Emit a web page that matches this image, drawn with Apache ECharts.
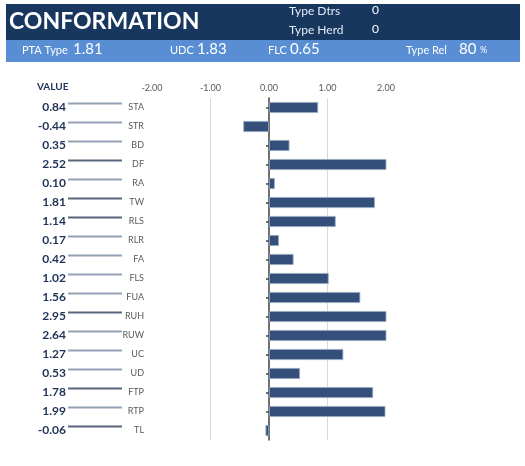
<!DOCTYPE html>
<html>
<head>
<meta charset="utf-8">
<title>conformation</title>
<script src="https://cdn.jsdelivr.net/npm/echarts@6/dist/echarts.min.js"></script>
<style>
  html, body { margin: 0; padding: 0; background: #fff; }
  #main { width: 525px; height: 466px; }
</style>
</head>
<body>
<div id="main"></div>
<script>
// trait codes, top to bottom
const traits = ['STA', 'STR', 'BD', 'DF', 'RA', 'TW', 'RLS', 'RLR', 'FA', 'FLS', 'FUA', 'RUH', 'RUW', 'UC', 'UD', 'FTP', 'RTP', 'TL'];
const values = [0.84, -0.44, 0.35, 2.52, 0.10, 1.81, 1.14, 0.17, 0.42, 1.02, 1.56, 2.95, 2.64, 1.27, 0.53, 1.78, 1.99, -0.06];
const xTicks = [-2, -1, 0, 1, 2];

// header figures
const typeDtrs = 0, typeHerd = 0;
const ptaType = 1.81, udc = 1.83, flc = 0.65, typeRel = 80;

// rows whose rule line prints darker
const darkRules = ['DF', 'TW', 'RLS', 'RUH', 'FTP', 'TL'];

const navy = '#1f3358';
const font = 'Lato, "Open Sans", sans-serif';

const txt = (x, y, text, size, extra) => ({
  type: 'text', left: x, top: y,
  style: Object.assign({ text: text, fill: '#fff', font: size + 'px ' + font }, extra || {})
});

const chart = echarts.init(document.getElementById('main'));
chart.setOption({
  animation: false,
  graphic: [
    { type: 'rect', shape: { x: 6, y: 4, width: 514, height: 36 }, style: { fill: '#18375f' } },
    { type: 'rect', shape: { x: 6, y: 40, width: 514, height: 22 }, style: { fill: '#5a8ed4' } },
    txt(9, 10, 'CONFORMATION', 23, { font: 'bold 23px ' + font }),
    txt(289, 5, 'Type Dtrs', 12, { fill: '#e3ebf5' }),
    txt(372, 4, String(typeDtrs), 12),
    txt(289, 24, 'Type Herd', 12, { fill: '#e3ebf5' }),
    txt(372, 23, String(typeHerd), 12),
    txt(22, 45, 'PTA Type', 11),
    txt(73, 42, ptaType.toFixed(2), 15),
    txt(170, 45, 'UDC', 11),
    txt(197, 42, udc.toFixed(2), 15),
    txt(268, 45, 'FLC', 11),
    txt(290, 42, flc.toFixed(2), 15),
    txt(406, 45, 'Type Rel', 11),
    txt(459, 42, String(typeRel), 15),
    txt(480, 46, '%', 9),
    txt(37, 82, 'VALUE', 10, { fill: navy, font: 'bold 10px ' + font })
  ],
  grid: [
    { left: 152, right: 139, top: 98, bottom: 26, outerBoundsMode: 'none' },
    { left: 68, width: 54, top: 98, bottom: 26, outerBoundsMode: 'none' }
  ],
  xAxis: [
    {
      gridIndex: 0, type: 'value', position: 'top',
      min: xTicks[0], max: xTicks[xTicks.length - 1], interval: 1,
      axisLine: { show: false }, axisTick: { show: false },
      axisLabel: { margin: 5, color: '#595959', fontSize: 9, fontFamily: font,
        formatter: v => v.toFixed(2) },
      splitLine: { show: true, lineStyle: { color: ['transparent', '#d9d9d9', 'transparent', '#d9d9d9', 'transparent'], width: 1 } }
    },
    { gridIndex: 1, type: 'value', min: 0, max: 1, show: false }
  ],
  yAxis: [
    {
      gridIndex: 0, type: 'category', inverse: true, data: traits, position: 'left',
      axisLine: { show: false, onZero: false }, axisTick: { show: false },
      axisLabel: { margin: 8, color: '#595959', fontSize: 9, fontFamily: font }
    },
    {
      gridIndex: 0, type: 'category', inverse: true, data: traits, position: 'left',
      axisLine: { show: true, onZero: true, onZeroAxisIndex: 0, lineStyle: { color: '#404040', width: 1.5 } },
      axisTick: { show: true, alignWithLabel: true, length: 3, lineStyle: { color: '#404040', width: 1.5 } },
      axisLabel: { show: false }
    },
    {
      gridIndex: 1, type: 'category', inverse: true, data: traits, position: 'left',
      axisLine: { show: false, onZero: false }, axisTick: { show: false },
      axisLabel: { margin: 2, color: navy, fontSize: 12, fontWeight: 'bold', fontFamily: font,
        formatter: (v, i) => values[i].toFixed(2) }
    }
  ],
  series: [
    {
      type: 'bar', xAxisIndex: 0, yAxisIndex: 0,
      data: values, barWidth: '58%',
      itemStyle: { color: '#34507a', borderColor: '#9aadc6', borderWidth: 0.8 },
      silent: true
    },
    {
      type: 'scatter', xAxisIndex: 1, yAxisIndex: 2,
      data: traits.map((t, i) => [0.5, i]),
      symbol: 'rect', symbolSize: [54, 1.8], symbolOffset: [0, -4],
      itemStyle: { color: p => darkRules.includes(traits[p.dataIndex]) ? '#2f3e5a' : '#7b8aa1' },
      silent: true
    }
  ]
});
</script>
</body>
</html>
